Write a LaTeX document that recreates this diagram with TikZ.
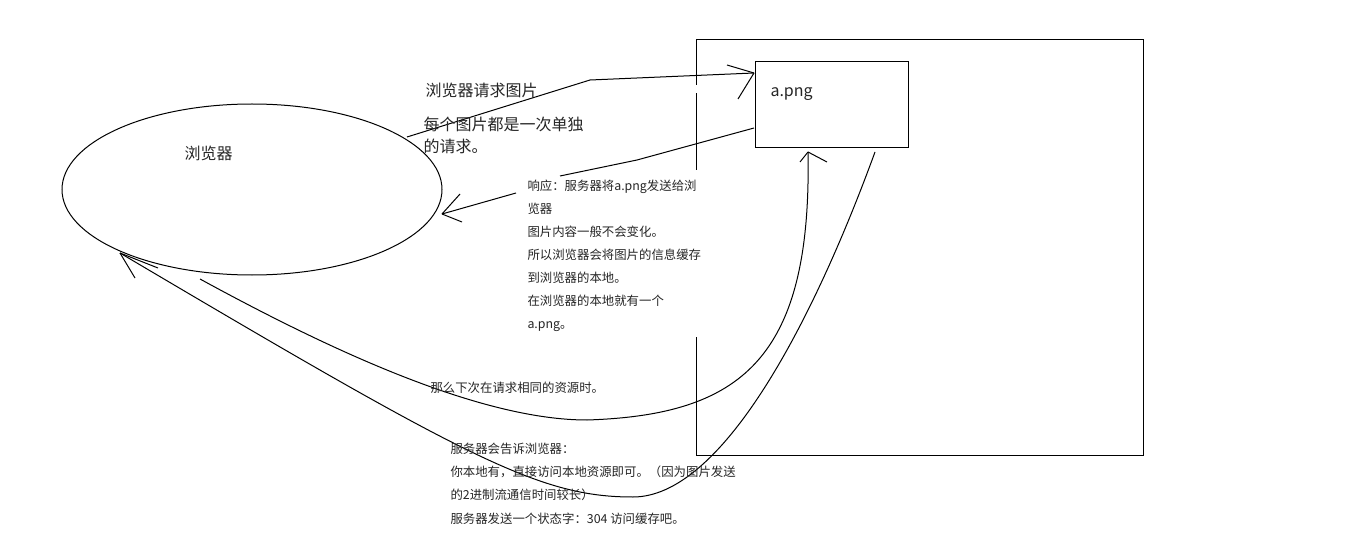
\documentclass[tikz,border=0pt]{standalone}
\usepackage{fontspec}
\newfontfamily\cjk{Noto Sans CJK SC}
\usetikzlibrary{shapes.geometric}
\begin{document}
\begin{tikzpicture}[x=1pt,y=-1pt,line width=1pt,
  big/.style={font=\cjk\fontsize{16}{22}\selectfont,inner sep=0pt,align=left,text=black!85},
  small/.style={font=\cjk\fontsize{12.4}{23}\selectfont,inner sep=0pt,align=left,text=black!85},
  smallb/.style={font=\cjk\fontsize{12.4}{23.3}\selectfont,inner sep=0pt,align=left,text=black!85},
  conn/.style={draw=black,line width=1pt},
  barb/.style={draw=black,line width=1pt}]
\useasboundingbox (0,0) rectangle (1360,556);
\fill[white] (0,0) rectangle (1360,556);

% outer rectangle (server), left edge partly erased
\draw (696,40) -- (1143,40) -- (1143,455) -- (696,455) -- (696,337);
\draw (696,170) -- (696,93);
\draw (696,85) -- (696,40);

% browser ellipse
\node[draw,ellipse,minimum width=380pt,minimum height=171pt,inner sep=0pt] (browser) at (252,189.5) {};
\node[big,anchor=base west] (browserlbl) at (184,159.1) {浏览器};

% image box
\node[draw,minimum width=153pt,minimum height=86pt,inner sep=0pt] (img) at (831.5,105) {};
\node[big,anchor=base west] (imglbl) at (770,97) {a.png};

% coordinates of connector ends
\coordinate (reqStart) at (407,137);
\coordinate (reqBend) at (590,80);
\coordinate (reqTip) at (754,73);
\coordinate (resStart) at (754,128);
\coordinate (resMid) at (637,160);
\coordinate (resGapA) at (560,176);
\coordinate (resGapB) at (516,193);
\coordinate (resTip) at (442,214);
\coordinate (againStart) at (200,279);
\coordinate (againLow) at (587,420);
\coordinate (againTip) at (808,152);
\coordinate (cacheStart) at (875,152);
\coordinate (cacheLow) at (633,497);
\coordinate (cacheTip) at (120,253);

% request
\draw[conn] (reqStart) -- (reqBend) -- (reqTip);
\draw[barb] (reqTip) -- ++(-27,-8);
\draw[barb] (reqTip) -- ++(-16,26);

% response
\draw[conn] (resStart) -- (resMid) -- (resGapA);
\draw[conn] (resGapB) -- (resTip);
\draw[barb] (resTip) -- ++(18,-20);
\draw[barb] (resTip) -- ++(20,8);

% next request
\draw[conn] (againStart) .. controls (330,350) and (480,420) .. (againLow)
  .. controls (740,415) and (812,360) .. (againTip);
\draw[barb] (againTip) -- ++(-8,10);
\draw[barb] (againTip) -- ++(19,10);

% 304 reply
\draw[conn] (cacheStart) .. controls (810,330) and (720,497) .. (cacheLow)
  .. controls (540,497) and (470,460) .. (cacheTip);
\draw[barb] (cacheTip) -- ++(38,15);
\draw[barb] (cacheTip) -- ++(15,25);

% texts
\node[big,anchor=base west] (t1) at (425,96.1) {浏览器请求图片};
\node[big,anchor=north west] (t2) at (423,114.7) {\strut 每个图片都是一次单独\\的请求。};
\node[small,anchor=north west] (t3) at (527,173.6) {\strut 响应：服务器将a.png发送给浏\\览器\\图片内容一般不会变化。\\所以浏览器会将图片的信息缓存\\到浏览器的本地。\\在浏览器的本地就有一个\\a.png。};
\node[small,anchor=base west] (t4) at (430,392.7) {那么下次在请求相同的资源时。};
\node[smallb,anchor=north west] (t5) at (450,436.4) {\strut 服务器会告诉浏览器：\\你本地有，直接访问本地资源即可。（因为图片发送\\的2进制流通信时间较长）\\服务器发送一个状态字：304 访问缓存吧。};
\end{tikzpicture}
\end{document}
